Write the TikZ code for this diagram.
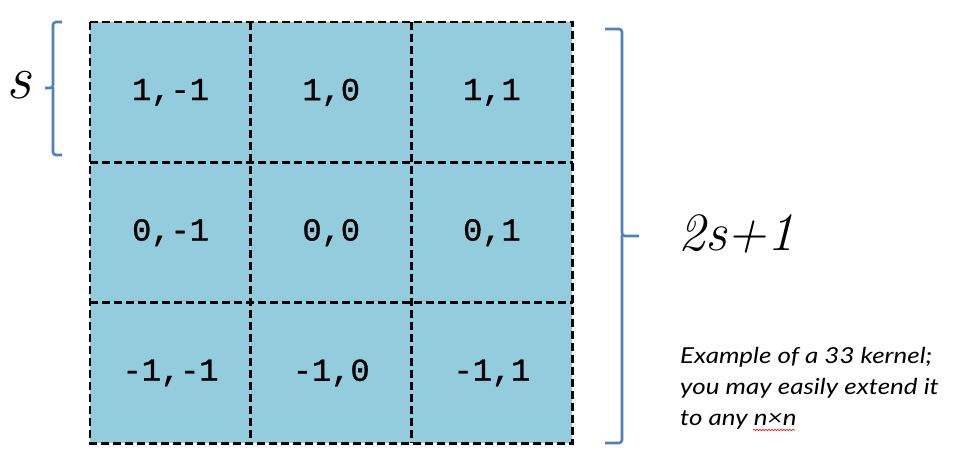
\documentclass[tikz,border=0pt]{standalone}
\usepackage{fontspec}
\newfontfamily\cellfont[FakeBold=1]{Liberation Mono}
\newfontfamily\notefont{Lato}
\usetikzlibrary{decorations.pathmorphing}
\definecolor{cellblue}{HTML}{93CDDD}
\definecolor{bracecol}{HTML}{4F81BD}
\tikzset{
  cellbox/.style={fill=cellblue,
    minimum width=160.7pt, minimum height=140.3pt, inner sep=0pt, anchor=north west,
    font=\cellfont\fontsize{32}{36}\selectfont},
  gridline/.style={draw=black, dash pattern=on 8pt off 4pt, line width=2.6pt},
  bracepath/.style={draw=bracecol, line width=2.6pt, rounded corners=3pt},
  mathlabel/.style={inner sep=0pt, font=\fontsize{54}{60}\selectfont\itshape},
  noteline/.style={anchor=base west, inner sep=0pt, xscale=1.18, transform shape,
    font=\notefont\itshape\fontsize{22}{31}\selectfont},
}
\begin{document}
\begin{tikzpicture}[x=1pt,y=-1pt]
\useasboundingbox (0,0) rectangle (955,461);
\fill[white] (0,0) rectangle (955,461);
% cells
\node[cellbox] (c11) at (90,22) {1,-1};
\node[cellbox] (c12) at (250.7,22) {1,0};
\node[cellbox] (c13) at (411.4,22) {1,1};
\node[cellbox] (c21) at (90,162.3) {0,-1};
\node[cellbox] (c22) at (250.7,162.3) {0,0};
\node[cellbox] (c23) at (411.4,162.3) {0,1};
\node[cellbox] (c31) at (90,302.6) {-1,-1};
\node[cellbox] (c32) at (250.7,302.6) {-1,0};
\node[cellbox] (c33) at (411.4,302.6) {-1,1};
% grid lines
\draw[gridline] (c12.north west) -- (c32.south west);
\draw[gridline] (c13.north west) -- (c33.south west);
\draw[gridline] (c21.north west) -- (c23.north east);
\draw[gridline] (c31.north west) -- (c33.north east);
\draw[gridline] (c11.north west) rectangle (c33.south east);
% left brace
\coordinate (lt) at (62,22);
\coordinate (lb) at (62,155);
\coordinate (ltip) at (45,88);
\draw[bracepath] (lt) -- (53,22) -- (53,88) -- (ltip);
\draw[bracepath] (53,87) -- (53,155) -- (lb);
\node[mathlabel, font=\fontsize{62}{66}\selectfont\itshape] (s) at (19,85) {s};
% right brace
\coordinate (rt) at (605,29);
\coordinate (rb) at (605,443);
\coordinate (rtip) at (639,236);
\draw[bracepath] (rt) -- (622,29) -- (622,236) -- (rtip);
\draw[bracepath] (622,235) -- (622,443) -- (rb);
\node[mathlabel, anchor=west] (size) at (678,234) {2s+1};
% note
\node[noteline] (note1) at (680,363) {Example of a 33 kernel;};
\node[noteline] (note2) at (680,394) {you may easily extend it};
\node[noteline] (note3) at (680,425) {to any n×n};
\coordinate (w1) at (753,430);
\coordinate (w2) at (795,430);
\draw[red, line width=0.6pt, decorate, decoration={snake, amplitude=0.8pt, segment length=3pt}] (w1) -- (w2);
\end{tikzpicture}
\end{document}
